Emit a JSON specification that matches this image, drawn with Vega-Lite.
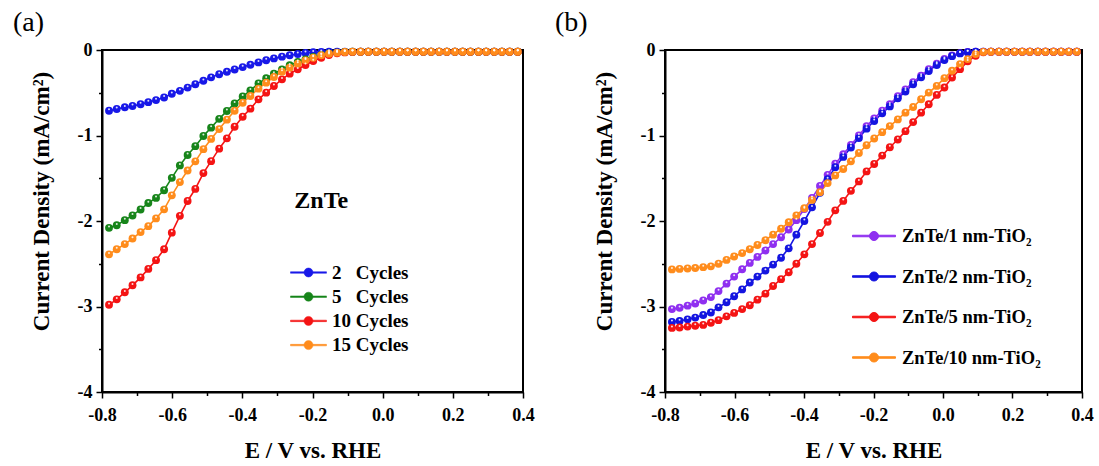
{
  "$schema": "https://vega.github.io/schema/vega-lite/v6.json",
  "background": "white",
  "padding": {"left": 12, "top": 8, "right": 3, "bottom": 3},
  "spacing": 18,
  "datasets": {
    "cycles": [
      {"E": -0.78, "k1": -0.71, "k2": -2.08, "k3": -2.98, "k4": -2.39},
      {"E": -0.758, "k1": -0.69, "k2": -2.05, "k3": -2.916, "k4": -2.33},
      {"E": -0.735, "k1": -0.67, "k2": -1.99, "k3": -2.834, "k4": -2.27},
      {"E": -0.713, "k1": -0.655, "k2": -1.935, "k3": -2.752, "k4": -2.205},
      {"E": -0.69, "k1": -0.634, "k2": -1.865, "k3": -2.66, "k4": -2.13},
      {"E": -0.668, "k1": -0.61, "k2": -1.79, "k3": -2.56, "k4": -2.06},
      {"E": -0.646, "k1": -0.586, "k2": -1.73, "k3": -2.458, "k4": -1.97},
      {"E": -0.623, "k1": -0.555, "k2": -1.64, "k3": -2.331, "k4": -1.864},
      {"E": -0.601, "k1": -0.512, "k2": -1.495, "k3": -2.136, "k4": -1.7},
      {"E": -0.578, "k1": -0.478, "k2": -1.35, "k3": -1.94, "k4": -1.545},
      {"E": -0.556, "k1": -0.44, "k2": -1.228, "k3": -1.766, "k4": -1.41},
      {"E": -0.534, "k1": -0.4, "k2": -1.125, "k3": -1.625, "k4": -1.302},
      {"E": -0.511, "k1": -0.36, "k2": -1.006, "k3": -1.44, "k4": -1.16},
      {"E": -0.489, "k1": -0.32, "k2": -0.908, "k3": -1.3, "k4": -1.04},
      {"E": -0.466, "k1": -0.283, "k2": -0.805, "k3": -1.154, "k4": -0.925},
      {"E": -0.444, "k1": -0.255, "k2": -0.713, "k3": -1.033, "k4": -0.815},
      {"E": -0.422, "k1": -0.228, "k2": -0.625, "k3": -0.897, "k4": -0.71},
      {"E": -0.399, "k1": -0.2, "k2": -0.544, "k3": -0.78, "k4": -0.617},
      {"E": -0.377, "k1": -0.173, "k2": -0.472, "k3": -0.686, "k4": -0.538},
      {"E": -0.354, "k1": -0.145, "k2": -0.392, "k3": -0.577, "k4": -0.452},
      {"E": -0.332, "k1": -0.12, "k2": -0.331, "k3": -0.499, "k4": -0.382},
      {"E": -0.31, "k1": -0.098, "k2": -0.277, "k3": -0.421, "k4": -0.316},
      {"E": -0.287, "k1": -0.078, "k2": -0.226, "k3": -0.343, "k4": -0.253},
      {"E": -0.265, "k1": -0.062, "k2": -0.179, "k3": -0.277, "k4": -0.207},
      {"E": -0.242, "k1": -0.047, "k2": -0.14, "k3": -0.226, "k4": -0.16},
      {"E": -0.22, "k1": -0.035, "k2": -0.109, "k3": -0.175, "k4": -0.121},
      {"E": -0.198, "k1": -0.027, "k2": -0.082, "k3": -0.129, "k4": -0.09},
      {"E": -0.175, "k1": -0.022, "k2": -0.058, "k3": -0.09, "k4": -0.062},
      {"E": -0.153, "k1": -0.02, "k2": -0.04, "k3": -0.058, "k4": -0.043},
      {"E": -0.13, "k1": -0.02, "k2": -0.03, "k3": -0.039, "k4": -0.031},
      {"E": -0.108, "k1": -0.02, "k2": -0.024, "k3": -0.028, "k4": -0.024},
      {"E": -0.086, "k1": -0.02, "k2": -0.02, "k3": -0.022, "k4": -0.02},
      {"E": -0.063, "k1": -0.02, "k2": -0.02, "k3": -0.02, "k4": -0.02},
      {"E": -0.041, "k1": -0.02, "k2": -0.02, "k3": -0.02, "k4": -0.02},
      {"E": -0.018, "k1": -0.02, "k2": -0.02, "k3": -0.02, "k4": -0.02},
      {"E": 0.004, "k1": -0.02, "k2": -0.02, "k3": -0.02, "k4": -0.02},
      {"E": 0.026, "k1": -0.02, "k2": -0.02, "k3": -0.02, "k4": -0.02},
      {"E": 0.049, "k1": -0.02, "k2": -0.02, "k3": -0.02, "k4": -0.02},
      {"E": 0.071, "k1": -0.02, "k2": -0.02, "k3": -0.02, "k4": -0.02},
      {"E": 0.094, "k1": -0.02, "k2": -0.02, "k3": -0.02, "k4": -0.02},
      {"E": 0.116, "k1": -0.02, "k2": -0.02, "k3": -0.02, "k4": -0.02},
      {"E": 0.138, "k1": -0.02, "k2": -0.02, "k3": -0.02, "k4": -0.02},
      {"E": 0.161, "k1": -0.02, "k2": -0.02, "k3": -0.02, "k4": -0.02},
      {"E": 0.183, "k1": -0.02, "k2": -0.02, "k3": -0.02, "k4": -0.02},
      {"E": 0.206, "k1": -0.02, "k2": -0.02, "k3": -0.02, "k4": -0.02},
      {"E": 0.228, "k1": -0.02, "k2": -0.02, "k3": -0.02, "k4": -0.02},
      {"E": 0.25, "k1": -0.02, "k2": -0.02, "k3": -0.02, "k4": -0.02},
      {"E": 0.273, "k1": -0.02, "k2": -0.02, "k3": -0.02, "k4": -0.02},
      {"E": 0.295, "k1": -0.02, "k2": -0.02, "k3": -0.02, "k4": -0.02},
      {"E": 0.318, "k1": -0.02, "k2": -0.02, "k3": -0.02, "k4": -0.02},
      {"E": 0.34, "k1": -0.02, "k2": -0.02, "k3": -0.02, "k4": -0.02},
      {"E": 0.362, "k1": -0.02, "k2": -0.02, "k3": -0.02, "k4": -0.02},
      {"E": 0.385, "k1": -0.02, "k2": -0.02, "k3": -0.02, "k4": -0.02}
    ],
    "tio2": [
      {"E": -0.78, "t1": -3.03, "t2": -3.18, "t3": -3.25, "t4": -2.566},
      {"E": -0.758, "t1": -3.015, "t2": -3.17, "t3": -3.245, "t4": -2.56},
      {"E": -0.735, "t1": -2.99, "t2": -3.15, "t3": -3.235, "t4": -2.555},
      {"E": -0.713, "t1": -2.965, "t2": -3.13, "t3": -3.225, "t4": -2.55},
      {"E": -0.69, "t1": -2.93, "t2": -3.1, "t3": -3.215, "t4": -2.54},
      {"E": -0.668, "t1": -2.89, "t2": -3.07, "t3": -3.19, "t4": -2.53},
      {"E": -0.646, "t1": -2.82, "t2": -3.01, "t3": -3.16, "t4": -2.5},
      {"E": -0.623, "t1": -2.733, "t2": -2.95, "t3": -3.115, "t4": -2.455},
      {"E": -0.601, "t1": -2.65, "t2": -2.88, "t3": -3.075, "t4": -2.415},
      {"E": -0.578, "t1": -2.565, "t2": -2.8, "t3": -3.03, "t4": -2.375},
      {"E": -0.556, "t1": -2.49, "t2": -2.72, "t3": -2.985, "t4": -2.33},
      {"E": -0.534, "t1": -2.42, "t2": -2.65, "t3": -2.92, "t4": -2.28},
      {"E": -0.511, "t1": -2.345, "t2": -2.58, "t3": -2.85, "t4": -2.225},
      {"E": -0.489, "t1": -2.27, "t2": -2.51, "t3": -2.76, "t4": -2.16},
      {"E": -0.466, "t1": -2.19, "t2": -2.43, "t3": -2.68, "t4": -2.09},
      {"E": -0.444, "t1": -2.1, "t2": -2.32, "t3": -2.6, "t4": -2.015},
      {"E": -0.422, "t1": -1.99, "t2": -2.16, "t3": -2.5, "t4": -1.935},
      {"E": -0.399, "t1": -1.86, "t2": -2.0, "t3": -2.39, "t4": -1.851},
      {"E": -0.377, "t1": -1.73, "t2": -1.84, "t3": -2.27, "t4": -1.753},
      {"E": -0.354, "t1": -1.59, "t2": -1.67, "t3": -2.14, "t4": -1.663},
      {"E": -0.332, "t1": -1.46, "t2": -1.51, "t3": -2.01, "t4": -1.557},
      {"E": -0.31, "t1": -1.33, "t2": -1.37, "t3": -1.875, "t4": -1.467},
      {"E": -0.287, "t1": -1.22, "t2": -1.25, "t3": -1.765, "t4": -1.392},
      {"E": -0.265, "t1": -1.11, "t2": -1.14, "t3": -1.647, "t4": -1.302},
      {"E": -0.242, "t1": -1.0, "t2": -1.03, "t3": -1.537, "t4": -1.204},
      {"E": -0.22, "t1": -0.89, "t2": -0.92, "t3": -1.42, "t4": -1.114},
      {"E": -0.198, "t1": -0.8, "t2": -0.83, "t3": -1.333, "t4": -1.035},
      {"E": -0.175, "t1": -0.71, "t2": -0.74, "t3": -1.235, "t4": -0.961},
      {"E": -0.153, "t1": -0.635, "t2": -0.66, "t3": -1.137, "t4": -0.89},
      {"E": -0.13, "t1": -0.54, "t2": -0.565, "t3": -1.047, "t4": -0.812},
      {"E": -0.108, "t1": -0.46, "t2": -0.485, "t3": -0.949, "t4": -0.733},
      {"E": -0.086, "t1": -0.375, "t2": -0.4, "t3": -0.843, "t4": -0.667},
      {"E": -0.063, "t1": -0.3, "t2": -0.32, "t3": -0.733, "t4": -0.576},
      {"E": -0.041, "t1": -0.225, "t2": -0.245, "t3": -0.635, "t4": -0.498},
      {"E": -0.018, "t1": -0.16, "t2": -0.175, "t3": -0.525, "t4": -0.42},
      {"E": 0.004, "t1": -0.105, "t2": -0.118, "t3": -0.439, "t4": -0.329},
      {"E": 0.026, "t1": -0.065, "t2": -0.072, "t3": -0.322, "t4": -0.243},
      {"E": 0.049, "t1": -0.037, "t2": -0.04, "t3": -0.224, "t4": -0.165},
      {"E": 0.071, "t1": -0.024, "t2": -0.025, "t3": -0.133, "t4": -0.106},
      {"E": 0.094, "t1": -0.02, "t2": -0.02, "t3": -0.067, "t4": -0.047},
      {"E": 0.116, "t1": -0.02, "t2": -0.02, "t3": -0.027, "t4": -0.022},
      {"E": 0.138, "t1": -0.02, "t2": -0.02, "t3": -0.02, "t4": -0.02},
      {"E": 0.161, "t1": -0.02, "t2": -0.02, "t3": -0.02, "t4": -0.02},
      {"E": 0.183, "t1": -0.02, "t2": -0.02, "t3": -0.02, "t4": -0.02},
      {"E": 0.206, "t1": -0.02, "t2": -0.02, "t3": -0.02, "t4": -0.02},
      {"E": 0.228, "t1": -0.02, "t2": -0.02, "t3": -0.02, "t4": -0.02},
      {"E": 0.25, "t1": -0.02, "t2": -0.02, "t3": -0.02, "t4": -0.02},
      {"E": 0.273, "t1": -0.02, "t2": -0.02, "t3": -0.02, "t4": -0.02},
      {"E": 0.295, "t1": -0.02, "t2": -0.02, "t3": -0.02, "t4": -0.02},
      {"E": 0.318, "t1": -0.02, "t2": -0.02, "t3": -0.02, "t4": -0.02},
      {"E": 0.34, "t1": -0.02, "t2": -0.02, "t3": -0.02, "t4": -0.02},
      {"E": 0.362, "t1": -0.02, "t2": -0.02, "t3": -0.02, "t4": -0.02},
      {"E": 0.385, "t1": -0.02, "t2": -0.02, "t3": -0.02, "t4": -0.02}
    ]
  },
  "hconcat": [
    {
      "width": 421,
      "height": 342,
      "title": {"text": "(a)", "dx": -17},
      "encoding": {
        "x": {
          "field": "E", "type": "quantitative",
          "scale": {"domain": [-0.8, 0.4], "nice": false, "zero": false},
          "axis": {
            "title": "E / V vs. RHE",
            "values": [-0.8, -0.7, -0.6, -0.5, -0.4, -0.3, -0.2, -0.1, 0, 0.1, 0.2, 0.3, 0.4],
            "labelExpr": "abs(round(datum.value*10))%2==0 ? replace(format(datum.value,'.1f'),'\u2212','-') : ''",
            "tickSize": {"condition": {"test": "abs(round(datum.value*10))%2==1", "value": 3.5}, "value": 6}
          }
        },
        "y": {
          "field": "J", "type": "quantitative",
          "scale": {"domain": [-4, 0], "nice": false, "zero": false},
          "axis": {
            "title": "Current Density (mA/cm\u00b2)",
            "titleY": 151,
            "values": [-4, -3.5, -3, -2.5, -2, -1.5, -1, -0.5, 0],
            "labelExpr": "datum.value%1==0 ? replace(format(datum.value,'d'),'\u2212','-') : ''",
            "tickSize": {"condition": {"test": "datum.value%1!=0", "value": 3.5}, "value": 6}
          }
        }
      },
      "layer": [
        {
          "data": {"name": "cycles"},
          "transform": [{"fold": ["k1", "k2", "k3", "k4"], "as": ["series", "J"]}],
          "mark": {"type": "line", "strokeWidth": 1.6},
          "encoding": {
            "color": {"field": "series", "type": "nominal",
              "scale": {"domain": ["k1", "k2", "k3", "k4"], "range": ["#1818e8", "#17851a", "#f41414", "#ff8c1c"]}}
          }
        },
        {
          "data": {"name": "cycles"},
          "transform": [{"fold": ["k1", "k2", "k3", "k4"], "as": ["series", "J"]}],
          "mark": {"type": "point", "filled": true, "size": 62, "opacity": 1},
          "encoding": {
            "color": {"field": "series", "type": "nominal",
              "scale": {"domain": ["k1", "k2", "k3", "k4"], "range": ["#1818e8", "#17851a", "#f41414", "#ff8c1c"]},
              "legend": {
                "orient": "none", "legendX": 196, "legendY": 212, "title": null, "padding": 0,
                "symbolType": "M-1.8,-0.075H1.8V0.075H-1.8ZM0.45,0A0.45,0.45,0,1,1,-0.45,0A0.45,0.45,0,1,1,0.45,0Z",
                "symbolSize": 400, "symbolStrokeWidth": 0.5, "symbolOpacity": 1,
                "labelFontSize": 19, "labelFontWeight": "bold", "labelFont": "Liberation Serif", "labelColor": "black",
                "labelOffset": 13, "rowPadding": 3.2,
                "labelExpr": "datum.label=='k1' ? '2\u00a0\u00a0\u00a0Cycles' : datum.label=='k2' ? '5\u00a0\u00a0\u00a0Cycles' : datum.label=='k3' ? '10 Cycles' : '15 Cycles'"
              }},
            "order": {"field": "series"}
          }
        },
        {
          "data": {"name": "cycles"},
          "transform": [{"fold": ["k1", "k2", "k3", "k4"], "as": ["series", "J"]}],
          "mark": {"type": "point", "filled": true, "size": 4, "opacity": 0.85, "yOffset": -1.4},
          "encoding": {"color": {"value": "white"}, "order": {"field": "series"}}
        },
        {
          "data": {"values": [{"E": -0.175, "J": -1.77, "label": "ZnTe"}]},
          "mark": {"type": "text", "fontSize": 24, "fontWeight": "bold", "font": "Liberation Serif", "baseline": "middle", "align": "center", "color": "black"},
          "encoding": {"text": {"field": "label"}}
        }
      ]
    },
    {
      "width": 417,
      "height": 342,
      "title": {"text": "(b)", "dx": -38},
      "encoding": {
        "x": {
          "field": "E", "type": "quantitative",
          "scale": {"domain": [-0.8, 0.4], "nice": false, "zero": false},
          "axis": {
            "title": "E / V vs. RHE",
            "values": [-0.8, -0.7, -0.6, -0.5, -0.4, -0.3, -0.2, -0.1, 0, 0.1, 0.2, 0.3, 0.4],
            "labelExpr": "abs(round(datum.value*10))%2==0 ? replace(format(datum.value,'.1f'),'\u2212','-') : ''",
            "tickSize": {"condition": {"test": "abs(round(datum.value*10))%2==1", "value": 3.5}, "value": 6}
          }
        },
        "y": {
          "field": "J", "type": "quantitative",
          "scale": {"domain": [-4, 0], "nice": false, "zero": false},
          "axis": {
            "title": "Current Density (mA/cm\u00b2)",
            "titleY": 151,
            "values": [-4, -3.5, -3, -2.5, -2, -1.5, -1, -0.5, 0],
            "labelExpr": "datum.value%1==0 ? replace(format(datum.value,'d'),'\u2212','-') : ''",
            "tickSize": {"condition": {"test": "datum.value%1!=0", "value": 3.5}, "value": 6}
          }
        }
      },
      "layer": [
        {
          "data": {"name": "tio2"},
          "transform": [{"fold": ["t1", "t2", "t3", "t4"], "as": ["series", "J"]}],
          "mark": {"type": "line", "strokeWidth": 1.6},
          "encoding": {
            "color": {"field": "series", "type": "nominal",
              "scale": {"domain": ["t1", "t2", "t3", "t4"], "range": ["#8f2ff0", "#1414e0", "#f41414", "#ff8c1c"]}}
          }
        },
        {
          "data": {"name": "tio2"},
          "transform": [{"fold": ["t1", "t2", "t3", "t4"], "as": ["series", "J"]}],
          "mark": {"type": "point", "filled": true, "size": 62, "opacity": 1},
          "encoding": {
            "color": {"field": "series", "type": "nominal",
              "scale": {"domain": ["t1", "t2", "t3", "t4"], "range": ["#8f2ff0", "#1414e0", "#f41414", "#ff8c1c"]},
              "legend": {
                "orient": "none", "legendX": 187, "legendY": 164, "title": null, "padding": 0,
                "symbolType": "M-1,-0.035H1V0.035H-1ZM0.21,0A0.21,0.21,0,1,1,-0.21,0A0.21,0.21,0,1,1,0.21,0Z",
                "symbolSize": 1849, "symbolStrokeWidth": 1, "symbolOpacity": 1,
                "labelFontSize": 18.5, "labelFontWeight": "bold", "labelFont": "Liberation Serif", "labelColor": "black",
                "labelOffset": 6, "rowPadding": 8.5,
                "labelExpr": "datum.label=='t1' ? 'ZnTe/1 nm-TiO\u2082' : datum.label=='t2' ? 'ZnTe/2 nm-TiO\u2082' : datum.label=='t3' ? 'ZnTe/5 nm-TiO\u2082' : 'ZnTe/10 nm-TiO\u2082'"
              }},
            "order": {"field": "series"}
          }
        },
        {
          "data": {"name": "tio2"},
          "transform": [{"fold": ["t1", "t2", "t3", "t4"], "as": ["series", "J"]}],
          "mark": {"type": "point", "filled": true, "size": 4, "opacity": 0.85, "yOffset": -1.4},
          "encoding": {"color": {"value": "white"}, "order": {"field": "series"}}
        }
      ]
    }
  ],
  "resolve": {"scale": {"color": "independent"}, "legend": {"color": "independent"}},
  "config": {
    "font": "Liberation Serif",
    "view": {"stroke": "black", "strokeWidth": 2},
    "title": {"font": "Liberation Serif", "fontSize": 28, "fontWeight": "normal", "color": "black", "anchor": "start", "frame": "bounds", "offset": 4},
    "axis": {
      "domainColor": "black", "domainWidth": 2, "tickColor": "black", "tickWidth": 1.5,
      "labelFont": "Liberation Serif", "labelFontSize": 18, "labelFontWeight": "bold", "labelColor": "black",
      "titleFont": "Liberation Serif", "titleFontSize": 23, "titleFontWeight": "bold", "titleColor": "black",
      "grid": false, "labelOverlap": false, "labelFlush": false, "labelBound": false
    },
    "axisX": {"labelPadding": 8, "titlePadding": 15},
    "axisY": {"labelPadding": 4, "titlePadding": 24}
  }
}
